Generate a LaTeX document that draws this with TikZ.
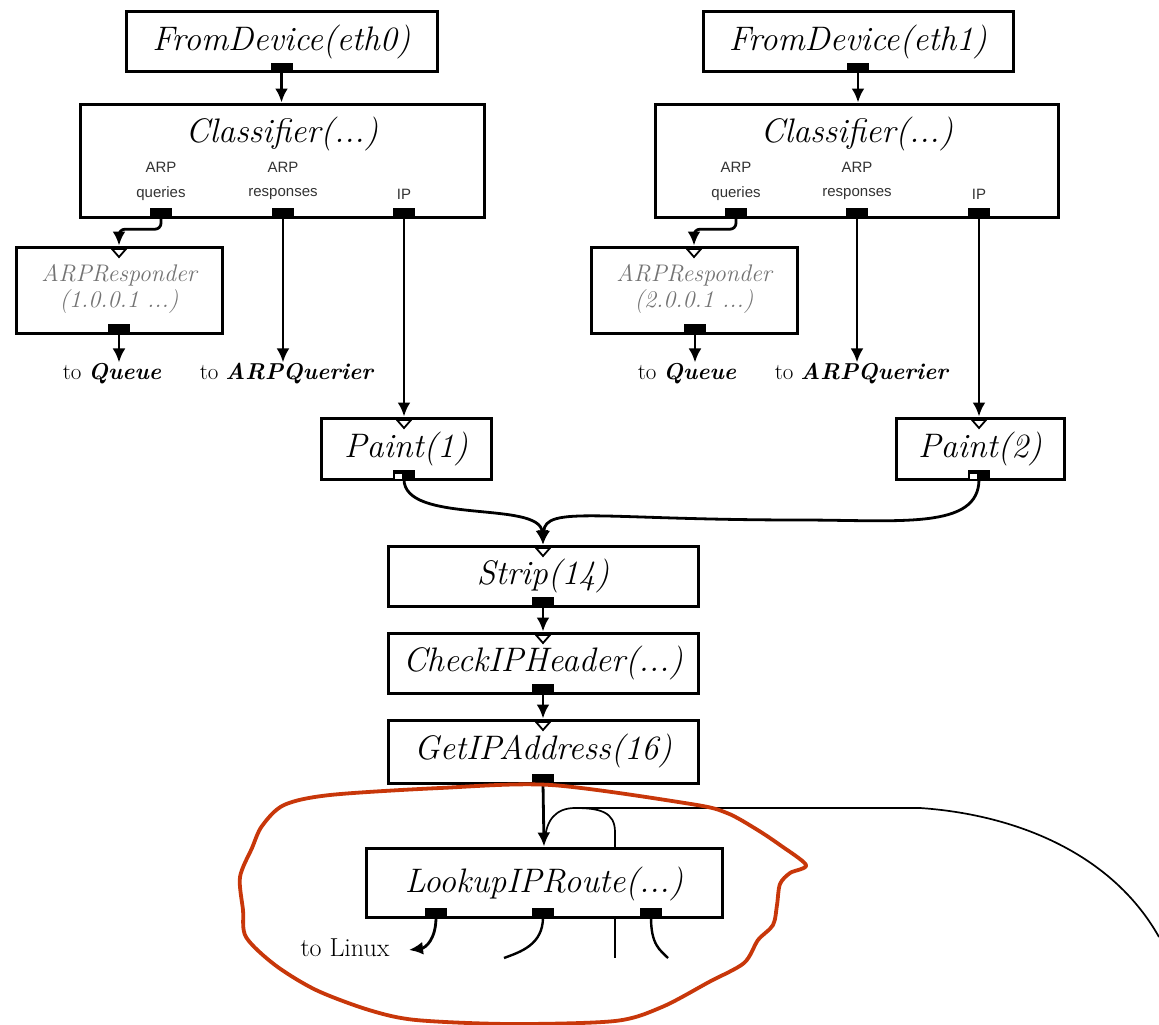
\documentclass[tikz,border=0pt]{standalone}
\usepackage{fontspec}
\newfontfamily\plfont{Liberation Sans}
\usetikzlibrary{arrows.meta}
\definecolor{penred}{RGB}{200,55,10}
\begin{document}
\begin{tikzpicture}[x=1pt,y=-1pt,
  box/.style={draw, line width=3pt, inner sep=0pt},
  title/.style={font=\fontsize{34}{37}\selectfont\itshape, inner sep=0pt},
  graytitle/.style={font=\fontsize{24}{27}\selectfont\itshape, text=black!55, inner sep=0pt},
  plabel/.style={font=\plfont\fontsize{15}{17}\selectfont, text=black!80, inner sep=0pt},
  dest/.style={font=\fontsize{23}{26}\selectfont, inner sep=1pt},
  oport/.style={fill=black, inner sep=0pt, minimum width=22pt, minimum height=9pt},
  conn/.style={line width=2.8pt, -{Latex[length=14pt,width=13pt]}},
  plainline/.style={line width=2.4pt},
  thinline/.style={line width=1.7pt},
  redpen/.style={draw=penred, line width=3.8pt, line join=round}
]
\useasboundingbox[fill=white] (0,0) rectangle (1159,1025);
\newcommand{\inport}[2]{\draw[line width=1.8pt, fill=white] (#1-7,#2+2) -- (#1+7,#2+2) -- (#1,#2+10) -- cycle;}

% ---------------- left column ----------------
\node[box, minimum width=311pt, minimum height=60pt] (fd0) at (281.5,42) {};
\node[title] (fd0t) at (281.5,42) {FromDevice(eth0)};
\node[oport] (fd0o) at (281.5,67.5) {};

\node[box, minimum width=404pt, minimum height=113pt] (cl0) at (282,160.5) {};
\node[title] (cl0t) at (282,134) {Classifier(...)};
\node[plabel] (cl0a1) at (161,167) {ARP};
\node[plabel] (cl0a2) at (161,194) {queries};
\node[plabel] (cl0b1) at (283,167) {ARP};
\node[plabel] (cl0b2) at (283,194) {responses};
\node[plabel] (cl0c2) at (404,194) {IP};
\node[oport] (c0q) at (161,212.5) {};
\node[oport] (c0r) at (283,212.5) {};
\node[oport] (c0i) at (404,212.5) {};

\node[box, minimum width=206pt, minimum height=86pt] (ar0) at (119,290) {};
\node[graytitle] (ar0t1) at (119,275) {ARPResponder};
\node[graytitle] (ar0t2) at (119,302) {(1.0.0.1 ...)};
\node[oport] (ar0o) at (119,328.5) {};
\inport{119}{247}

\node[dest] (tq0) at (112,374) {to \textbf{\textit{Queue}}};
\node[dest] (ta0) at (287,374) {to \textbf{\textit{ARPQuerier}}};

\node[box, minimum width=170pt, minimum height=61pt] (p1) at (406,448.5) {};
\node[title] (p1t) at (406,449) {Paint(1)};
\node[oport] (p1o) at (404,474.5) {};
\node[fill=white, inner sep=0pt, minimum width=7pt, minimum height=5pt] (p1oi) at (398,476) {};
\inport{404}{418}

% ---------------- right column ----------------
\node[box, minimum width=310pt, minimum height=60pt] (fd1) at (858,42) {};
\node[title] (fd1t) at (858,42) {FromDevice(eth1)};
\node[oport] (fd1o) at (858,67.5) {};

\node[box, minimum width=403pt, minimum height=113pt] (cl1) at (856.5,160.5) {};
\node[title] (cl1t) at (857,134) {Classifier(...)};
\node[plabel] (cl1a1) at (736,167) {ARP};
\node[plabel] (cl1a2) at (736,194) {queries};
\node[plabel] (cl1b1) at (857,167) {ARP};
\node[plabel] (cl1b2) at (857,194) {responses};
\node[plabel] (cl1c2) at (979,194) {IP};
\node[oport] (c1q) at (736,212.5) {};
\node[oport] (c1r) at (857,212.5) {};
\node[oport] (c1i) at (979,212.5) {};

\node[box, minimum width=206pt, minimum height=86pt] (ar1) at (694,290) {};
\node[graytitle] (ar1t1) at (694,275) {ARPResponder};
\node[graytitle] (ar1t2) at (694,302) {(2.0.0.1 ...)};
\node[oport] (ar1o) at (695,328.5) {};
\inport{694}{247}

\node[dest] (tq1) at (687,374) {to \textbf{\textit{Queue}}};
\node[dest] (ta1) at (862,374) {to \textbf{\textit{ARPQuerier}}};

\node[box, minimum width=168pt, minimum height=61pt] (p2) at (980,448.5) {};
\node[title] (p2t) at (980,449) {Paint(2)};
\node[oport] (p2o) at (979,474.5) {};
\node[fill=white, inner sep=0pt, minimum width=7pt, minimum height=5pt] (p2oi) at (973,476) {};
\inport{979}{418}

% ---------------- middle column ----------------
\node[box, minimum width=310pt, minimum height=60pt] (st) at (543,576) {};
\node[title] (stt) at (543,576) {Strip(14)};
\node[oport] (sto) at (543,601.5) {};
\inport{543}{546}

\node[box, minimum width=310pt, minimum height=60pt] (ch) at (543,663) {};
\node[title] (cht) at (543,663) {CheckIPHeader(...)};
\node[oport] (cho) at (543,688.5) {};
\inport{543}{633}

\node[box, minimum width=310pt, minimum height=63pt] (gi) at (543,751.5) {};
\node[title] (git) at (543,751) {GetIPAddress(16)};
\node[oport] (gio) at (543,778.5) {};
\inport{543}{720}

\node[box, minimum width=356pt, minimum height=69pt] (lk) at (544,882.5) {};
\node[title] (lkt) at (544,884) {LookupIPRoute(...)};
\node[oport] (lk1) at (436,912.5) {};
\node[oport] (lk2) at (543,912.5) {};
\node[oport] (lk3) at (651,912.5) {};

\node[dest, font=\fontsize{26}{29}\selectfont] (tl) at (345,948) {to Linux};

\coordinate (loopfoot) at (615,849);
\coordinate (loopfar) at (1159,937);
\coordinate (cut2) at (504,958);
\coordinate (cut3a) at (615,917);
\coordinate (cut3b) at (615,958);
\coordinate (cut4) at (668,958);
\coordinate (linuxend) at (409,950);

% ---------------- connectors ----------------
\draw[conn] (fd0o.south) -- (fd0o.south |- cl0.north);
\draw[conn] (fd1o.south) -- (fd1o.south |- cl1.north);
\draw[conn, rounded corners=6pt] (c0q.south) -- ++(0,12) -| (ar0.north);
\draw[conn, rounded corners=6pt] (c1q.south) -- ++(0,12) -| (ar1.north);
\draw[conn] (c0r.south) -- (c0r.south |- ta0.north);
\draw[conn] (c1r.south) -- (c1r.south |- ta1.north);
\draw[conn] (ar0o.south) -- (ar0o.south |- tq0.north);
\draw[conn] (ar1o.south) -- (ar1o.south |- tq1.north);
\draw[conn] (c0i.south) -- (c0i.south |- p1.north);
\draw[conn] (c1i.south) -- (c1i.south |- p2.north);

\draw[conn] (p1o.south) .. controls (404,525) and (540,500) .. (st.north);
\draw[conn] (p2o.south) .. controls (979,530) and (900,520) .. (800,520)
   .. controls (600,520) and (545,505) .. (st.north);
\draw[conn] (sto.south) -- (ch.north);
\draw[conn] (cho.south) -- (gi.north);
\draw[conn] (gio.south) -- (lk.north);

\draw[thinline] (loopfoot) -- (615,832) .. controls (615,812) and (600,808) .. (575,808)
   .. controls (556,808) and (546,820) .. (545,840);
\draw[thinline] (575,808) -- (920,808) .. controls (1010,814) and (1110,850) .. (loopfar);

\draw[conn] (lk1.south) .. controls (436,940) and (425,948) .. (linuxend);
\draw[plainline] (lk2.south) .. controls (543,945) and (520,952) .. (cut2);
\draw[thinline] (cut3a) -- (cut3b);
\draw[plainline] (lk3.south) .. controls (651,945) and (660,950) .. (cut4);

% ---------------- red freehand loop ----------------
\draw[redpen] plot[smooth cycle, tension=0.5] coordinates {
 (551,785) (440,788) (330,795) (284,805) (262,826) (252,848)
 (240,877) (243,910) (246,937) (275,965) (316,990) (369,1010)
 (416,1020) (510,1024) (615,1021) (662,1007) (709,982) (744,963)
 (758,940) (773,925) (777,905) (780,884) (790,873) (806,865)
 (780,845) (756,829) (727,813) (691,804)};
\end{tikzpicture}
\end{document}
